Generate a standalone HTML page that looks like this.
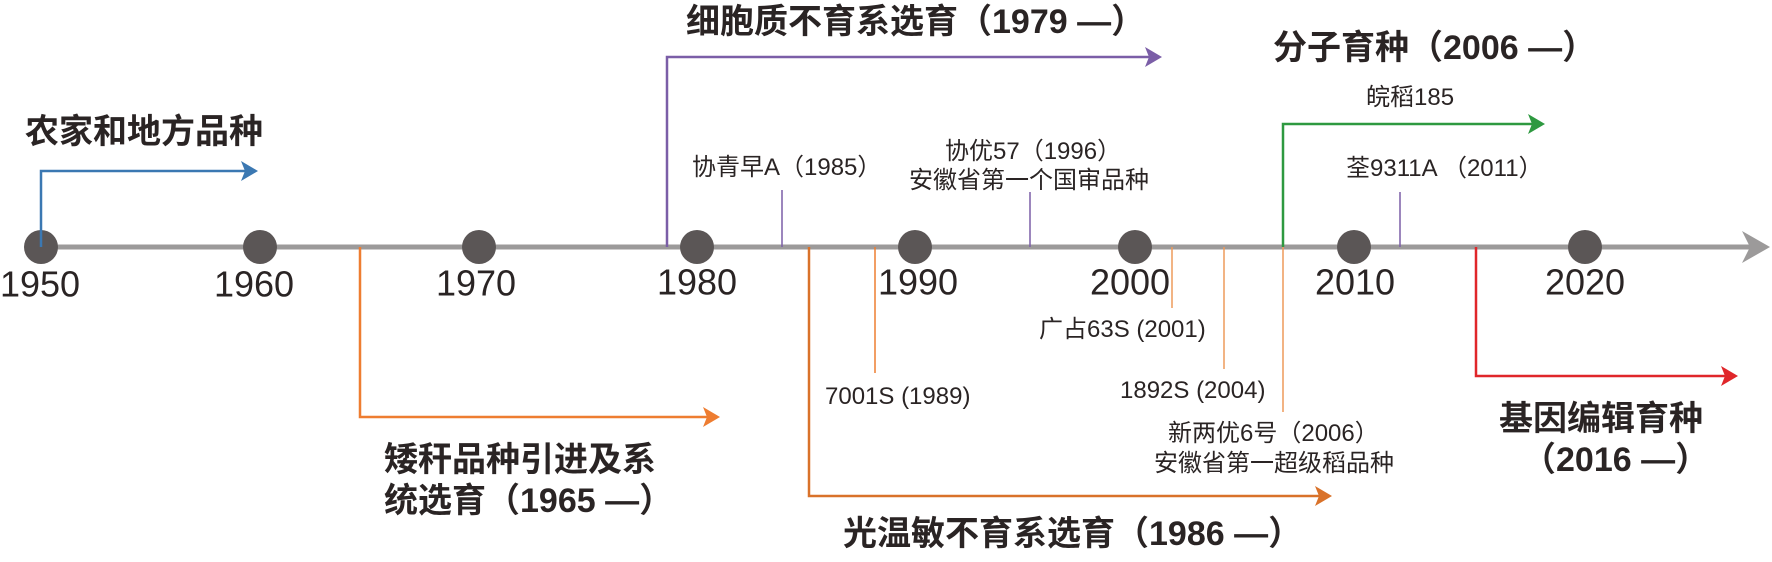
<!DOCTYPE html>
<html><head><meta charset="utf-8"><style>
html,body{margin:0;padding:0;background:#fff;}
svg{display:block;}
.b{font-family:"Liberation Sans","Noto Sans CJK SC",sans-serif;font-weight:bold;font-size:34px;fill:#2a2424;}
.s{font-family:"Liberation Sans","Noto Sans CJK SC",sans-serif;font-size:24px;fill:#2a2424;}
.y{font-family:"Liberation Sans",sans-serif;font-size:36px;fill:#2a2424;}
</style></head><body>
<svg width="1772" height="562" viewBox="0 0 1772 562" xmlns="http://www.w3.org/2000/svg">
<line x1="40" y1="247" x2="1752" y2="247" stroke="#9c9a9a" stroke-width="5"/>
<polygon points="1770,247 1742,231 1750,247 1742,263" fill="#9c9a9a"/>
<g fill="#5b5656">
<circle cx="41" cy="247" r="17"/><circle cx="260" cy="247" r="17"/><circle cx="479" cy="247" r="17"/>
<circle cx="697" cy="247" r="17"/><circle cx="915" cy="247" r="17"/><circle cx="1135" cy="247" r="17"/>
<circle cx="1354" cy="247" r="17"/><circle cx="1585" cy="247" r="17"/></g>
<g class="y" text-anchor="middle" dominant-baseline="middle">
<text x="40" y="287">1950</text><text x="254" y="287">1960</text><text x="476" y="286">1970</text>
<text x="697" y="285">1980</text><text x="918" y="285">1990</text><text x="1130" y="285">2000</text>
<text x="1355" y="285">2010</text><text x="1585" y="285">2020</text></g>
<polyline points="41,247 41,171 250,171" fill="none" stroke="#3b78b2" stroke-width="2.5"/>
<polygon points="258,171 241,161 245,171 241,181" fill="#3b78b2"/>
<text class="b" x="25" y="143">农家和地方品种</text>
<polyline points="667,247 667,57 1153,57" fill="none" stroke="#7b5ea7" stroke-width="2.5"/>
<polygon points="1162,57 1145,47 1149,57 1145,67" fill="#7b5ea7"/>
<text class="b" x="686" y="33">细胞质不育系选育（1979 —）</text>
<polyline points="360,247 360,417 711,417" fill="none" stroke="#ee7d31" stroke-width="2.5"/>
<polygon points="720,417 703,407 707,417 703,427" fill="#ee7d31"/>
<text class="b" x="384" y="471">矮秆品种引进及系</text>
<text class="b" x="384" y="512">统选育（1965 —）</text>
<line x1="782" y1="190" x2="782" y2="247" stroke="#7b5ea7" stroke-width="1.5"/>
<text class="s" x="692" y="175">协青早A（1985）</text>
<polyline points="809,247 809,496 1323,496" fill="none" stroke="#d9722a" stroke-width="2.5"/>
<polygon points="1332,496 1315,486 1319,496 1315,506" fill="#d9722a"/>
<text class="b" x="843" y="545">光温敏不育系选育（1986 —）</text>
<line x1="875" y1="247" x2="875" y2="373" stroke="#ee7d31" stroke-width="1.5"/>
<text class="s" x="825" y="404">7001S (1989)</text>
<line x1="1030" y1="192" x2="1030" y2="247" stroke="#7b5ea7" stroke-width="1.5"/>
<text class="s" x="945" y="159">协优57（1996）</text>
<text class="s" x="909" y="188">安徽省第一个国审品种</text>
<line x1="1172" y1="247" x2="1172" y2="308" stroke="#ee9a5a" stroke-width="1.5"/>
<text class="s" x="1039" y="337">广占63S (2001)</text>
<line x1="1224" y1="247" x2="1224" y2="369" stroke="#ee9a5a" stroke-width="1.5"/>
<text class="s" x="1120" y="398">1892S (2004)</text>
<line x1="1283" y1="247" x2="1283" y2="412" stroke="#ee9a5a" stroke-width="1.5"/>
<text class="s" x="1168" y="441">新两优6号（2006）</text>
<text class="s" x="1154" y="471">安徽省第一超级稻品种</text>
<polyline points="1283,247 1283,124 1536,124" fill="none" stroke="#2e9940" stroke-width="2.5"/>
<polygon points="1545,124 1528,114 1532,124 1528,134" fill="#2e9940"/>
<text class="b" x="1273" y="59">分子育种（2006 —）</text>
<text class="s" x="1366" y="105">皖稻185</text>
<line x1="1400" y1="192" x2="1400" y2="247" stroke="#7b5ea7" stroke-width="1.5"/>
<text class="s" x="1346" y="176">荃9311A （2011）</text>
<polyline points="1476,247 1476,376 1729,376" fill="none" stroke="#e0262a" stroke-width="2.5"/>
<polygon points="1738,376 1721,366 1725,376 1721,386" fill="#e0262a"/>
<text class="b" x="1499" y="430">基因编辑育种</text>
<text class="b" x="1522" y="471">（2016 —）</text>
</svg>
</body></html>
